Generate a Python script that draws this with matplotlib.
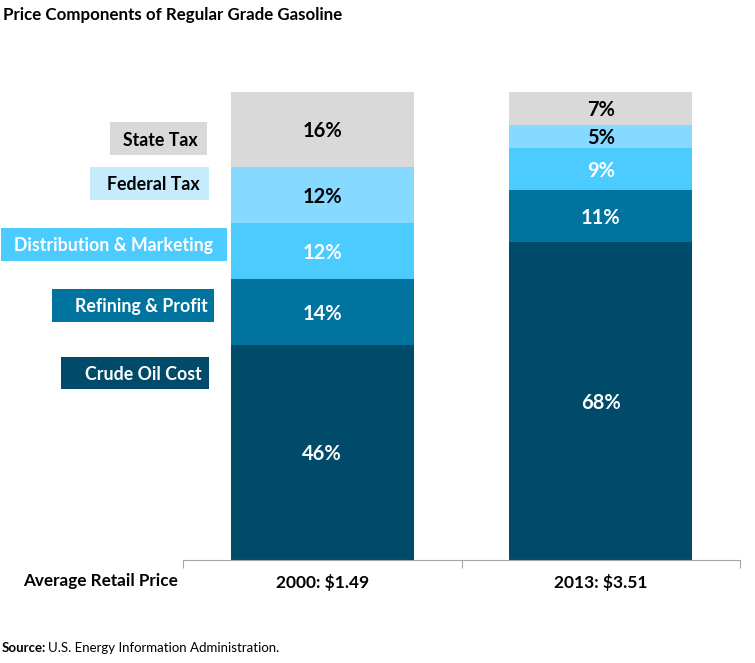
import matplotlib.pyplot as plt
from matplotlib.patches import Rectangle

plt.rcParams['font.family'] = ['Lato', 'DejaVu Sans']

# data
years = ["2000: $1.49", "2013: $3.51"]
components = ["Crude Oil Cost", "Refining & Profit", "Distribution & Marketing",
              "Federal Tax", "State Tax"]
share_2000 = [46, 14, 12, 12, 16]
share_2013 = [68, 11, 9, 5, 7]
colors = ["#004a6a", "#00739f", "#4bcbff", "#86d9ff", "#d9d9d9"]
text_colors = ["white", "white", "white", "black", "black"]
box_colors = ["#004a6a", "#00739f", "#4bcbff", "#c6ebfd", "#d9d9d9"]

W, H = 755, 663
fig = plt.figure(figsize=(W / 100, H / 100), dpi=100)
ax = fig.add_axes([183 / W, 1 - 560 / H, (740 - 183) / W, (560 - 92) / H])

x = [0, 1]
bottoms = [0, 0]
for i, comp in enumerate(components):
    vals = [share_2000[i], share_2013[i]]
    ax.bar(x, vals, bottom=bottoms, width=0.657, color=colors[i], linewidth=0)
    for xi, v, b in zip(x, vals, bottoms):
        ax.text(xi, b + v / 2, f"{v}%", ha="center", va="center_baseline",
                fontsize=14.5, fontweight="bold", color=text_colors[i])
    bottoms = [b + v for b, v in zip(bottoms, vals)]

ax.set_xlim(-0.5, 1.5)
ax.set_ylim(0, 100)
for s in ["top", "right", "left"]:
    ax.spines[s].set_visible(False)
ax.spines["bottom"].set_color("#a6a6a6")
ax.set_yticks([])
ax.set_xticks([-0.5, 0.5, 1.5])
ax.set_xticklabels([])
ax.tick_params(axis="x", length=6, color="#a6a6a6", direction="out")
for xi, lab in zip(x, years):
    ax.text(xi, -3.0, lab, ha="center", va="top", fontsize=12.5,
            fontweight="bold", transform=ax.transData)

fig.text(101 / W, 1 - 581 / H, "Average Retail Price", ha="center",
         va="center", fontsize=12.3, fontweight="bold")

# legend boxes on the left: box extent and text centre in pixels
boxes = {
    "State Tax": (110, 122, 207, 155, 160),
    "Federal Tax": (90, 167, 209, 200, 153),
    "Distribution & Marketing": (1, 228, 227, 261, 114),
    "Refining & Profit": (52, 289, 214, 322, 141),
    "Crude Oil Cost": (61, 357, 209, 389, 143),
}
for i, comp in enumerate(components):
    x0, y0, x1, y1, tx = boxes[comp]
    fig.patches.append(Rectangle((x0 / W, 1 - y1 / H), (x1 - x0) / W,
                                 (y1 - y0) / H, transform=fig.transFigure,
                                 color=box_colors[i], linewidth=0))
    fig.text(tx / W, 1 - (y0 + y1) / 2 / H, comp,
             ha="center", va="center_baseline", fontsize=12.8,
             fontweight="bold", color=text_colors[i])

fig.text(3 / W, 1 - 15 / H, "Price Components of Regular Grade Gasoline",
         ha="left", va="center", fontsize=12.2, fontweight="bold")
src = fig.text(2 / W, 1 - 648 / H, "Source:", ha="left", va="center",
               fontsize=9.5, fontweight="bold")
fig.canvas.draw()
bb = src.get_window_extent()
fig.text(bb.x1 / W + 2 / W, 1 - 648 / H, "U.S. Energy Information Administration.",
         ha="left", va="center", fontsize=9.5)

fig.savefig("out.png", dpi=100)
